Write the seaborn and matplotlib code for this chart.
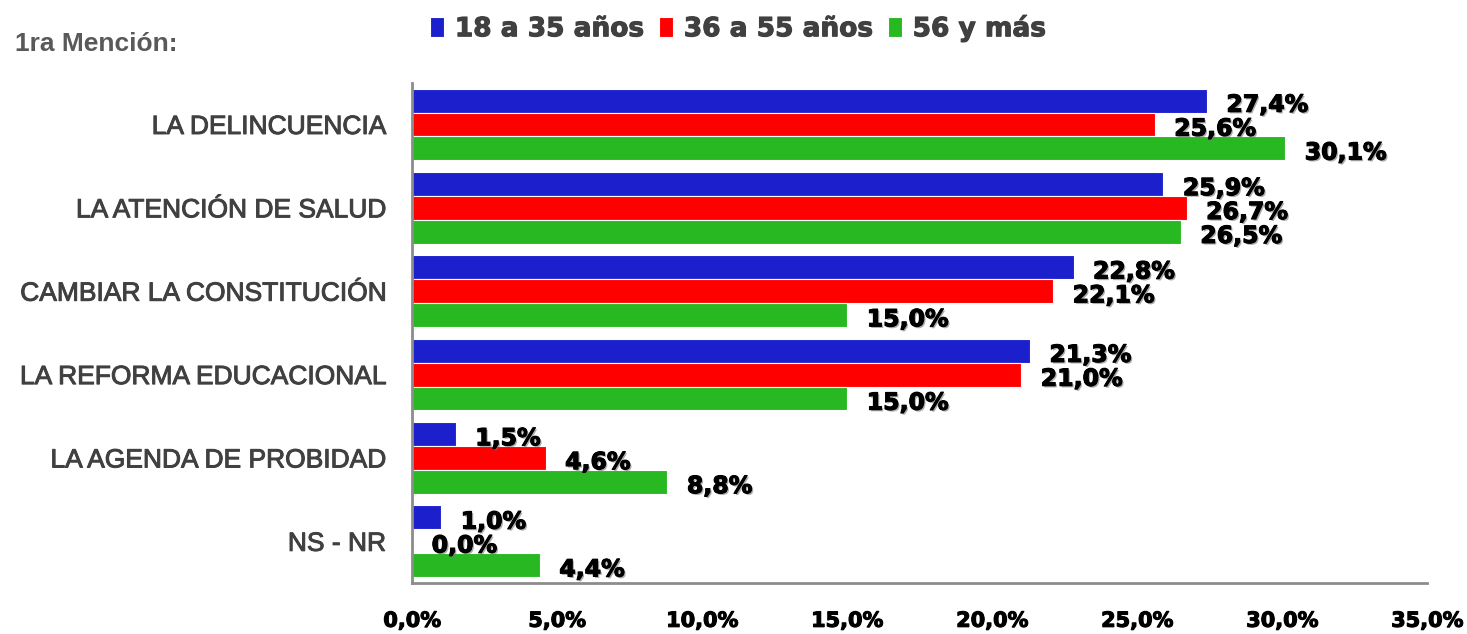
import numpy as np
import pandas as pd
import seaborn as sns
import matplotlib.pyplot as plt
import matplotlib.patheffects as pe

# Datos
categorias = ['LA DELINCUENCIA', 'LA ATENCIÓN DE SALUD', 'CAMBIAR LA CONSTITUCIÓN',
              'LA REFORMA EDUCACIONAL', 'LA AGENDA DE PROBIDAD', 'NS - NR']
edades = ['18 a 35 años', '36 a 55 años', '56 y más']
v_18_35 = [27.4, 25.9, 22.8, 21.3, 1.5, 1.0]
v_36_55 = [25.6, 26.7, 22.1, 21.0, 4.6, 0.0]
v_56 = [30.1, 26.5, 15.0, 15.0, 8.8, 4.4]
x_ticks = [0, 5, 10, 15, 20, 25, 30, 35]
colores = ['#1c1fcc', '#ff0000', '#28b922']

df = pd.DataFrame({
    'categoria': categorias * 3,
    'edad': [e for e in edades for _ in categorias],
    'valor': v_18_35 + v_36_55 + v_56,
})

sns.set_style('white')
plt.rcParams['font.family'] = ['DejaVu Sans']

fig = plt.figure(figsize=(14.67, 6.34), dpi=100)
ax = fig.add_axes([0.281, 0.0804, 0.692, 0.789])

sns.barplot(data=df, x='valor', y='categoria', hue='edad', palette=colores,
            order=categorias, hue_order=edades, width=0.86, saturation=1,
            edgecolor='white', linewidth=0.8, legend=True, ax=ax)

# Etiquetas de valores
sombra = [pe.withSimplePatchShadow(offset=(1.2, -1.2), shadow_rgbFace='#777777', alpha=0.6),
          pe.withStroke(linewidth=0.8, foreground='black')]
for cont in ax.containers:
    etiquetas = [f'{b.get_width():.1f}%'.replace('.', ',') for b in cont]
    txts = ax.bar_label(cont, labels=etiquetas, padding=14, fontsize=17,
                        fontweight='bold', color='black')
    for t in txts:
        t.xyann = (14, -3)
        t.set_path_effects(sombra)

ax.set_xlim(0, 35)
ax.set_xticks(x_ticks)
ax.set_xticklabels([f'{v:.1f}%'.replace('.', ',') for v in x_ticks],
                   fontsize=15, fontweight='bold', color='black')
for lab in ax.get_xticklabels():
    lab.set_path_effects([pe.withStroke(linewidth=0.8, foreground='black')])
ax.tick_params(axis='x', length=0, pad=20)
ax.tick_params(axis='y', which='major', length=0, pad=19)
for lab in ax.get_yticklabels():
    lab.set_fontfamily('Liberation Sans')
    lab.set_fontsize(19)
    lab.set_color('#404040')
    lab.set_path_effects([pe.withStroke(linewidth=0.7, foreground='#404040')])
ax.set_yticks(np.arange(-0.5, len(categorias), 1), minor=True)
ax.tick_params(axis='y', which='minor', length=5, width=1.5, color='#8c8c8c', direction='inout')
ax.set_xlabel('')
ax.set_ylabel('')

for s in ['top', 'right']:
    ax.spines[s].set_visible(False)
for s in ['left', 'bottom']:
    ax.spines[s].set_color('#8c8c8c')
    ax.spines[s].set_linewidth(2)

# Leyenda
handles, labels = ax.get_legend_handles_labels()
ax.get_legend().remove()
leg = fig.legend(handles, labels, loc='upper center', bbox_to_anchor=(0.503, 1.015),
                 ncol=3, frameon=False, fontsize=19, handlelength=0.55, handleheight=0.8,
                 handletextpad=0.4, columnspacing=0.55)
for t in leg.get_texts():
    t.set_fontweight('bold')
    t.set_color('#404040')
    t.set_path_effects([pe.withStroke(linewidth=0.8, foreground='#404040')])

fig.text(0.01, 0.93, '1ra Mención:', fontsize=19, fontweight='bold', color='#595959',
         family='Liberation Sans', va='center', ha='left')

plt.savefig('out.png', dpi=100)
